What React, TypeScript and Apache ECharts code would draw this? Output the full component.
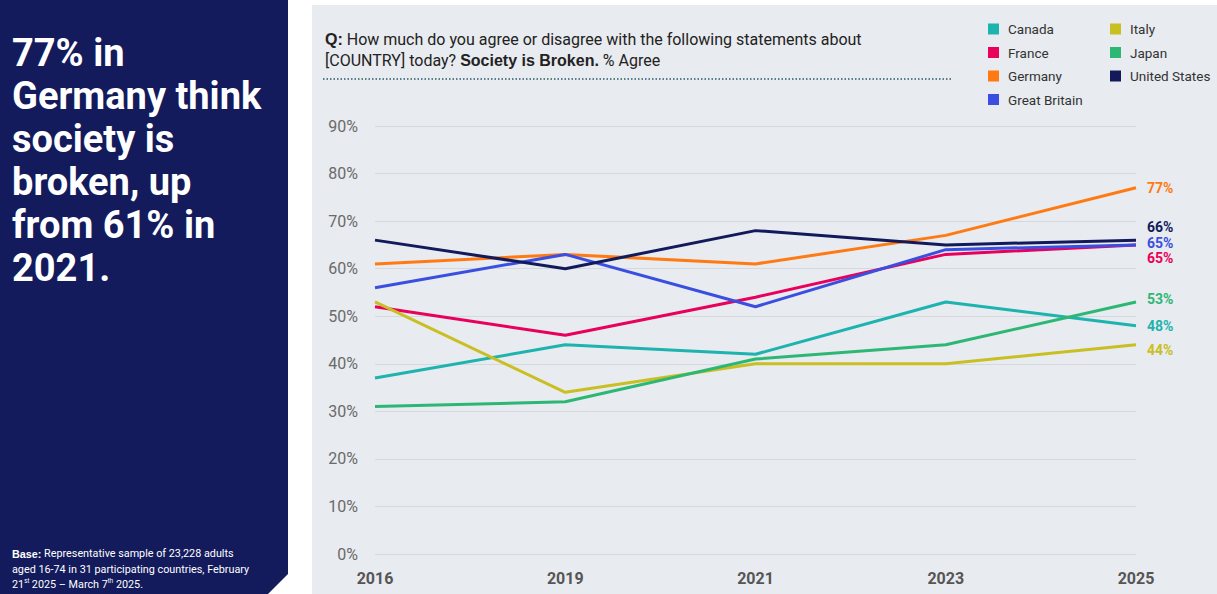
import React, { useEffect, useRef } from "react";
import * as echarts from "echarts";

const years = ["2016", "2019", "2021", "2023", "2025"];
const canada = [37, 44, 42, 53, 48];
const france = [52, 46, 54, 63, 65];
const germany = [61, 63, 61, 67, 77];
const greatBritain = [56, 63, 52, 64, 65];
const italy = [53, 34, 40, 40, 44];
const japan = [31, 32, 41, 44, 53];
const unitedStates = [66, 60, 68, 65, 66];

const seriesDefs = [
  { name: "Canada", data: canada, color: "#1db3ae", dy: 0 },
  { name: "France", data: france, color: "#e8005b", dy: 13 },
  { name: "Germany", data: germany, color: "#ff7a12", dy: 0 },
  { name: "Great Britain", data: greatBritain, color: "#3a4fe0", dy: -2 },
  { name: "Italy", data: italy, color: "#c9bf22", dy: 5 },
  { name: "Japan", data: japan, color: "#2db774", dy: -3 },
  { name: "United States", data: unitedStates, color: "#121a5b", dy: -13 },
];

const headline = ["77% in", "Germany think", "society is", "broken, up", "from 61% in", "2021."];

export default function App() {
  const ref = useRef<HTMLDivElement>(null);
  useEffect(() => {
    if (!ref.current) return;
    const chart = echarts.init(ref.current, null, { renderer: "svg" });
    const font = "Roboto";
    const option: any = {
      animation: false,
      textStyle: { fontFamily: font },
      grid: { left: 375, right: 81, top: 126, bottom: 40 },
      graphic: [
        {
          type: "polygon",
          z: -10,
          shape: { points: [[0, 0], [288, 0], [288, 574], [268, 594], [0, 594]] },
          style: { fill: "#131b5c" },
        },
        {
          type: "rect",
          z: -10,
          shape: { x: 312, y: 5, width: 905, height: 589 },
          style: { fill: "#e8ebef" },
        },
        ...headline.map((t, i) => ({
          type: "text",
          x: 12,
          y: 34 + i * 43,
          style: {
            text: t,
            fill: "#ffffff",
            font: `bold 38px ${font}`,
          },
        })),
        {
          type: "text",
          x: 12,
          y: 546,
          style: {
            text:
              "{b|Base:} Representative sample of 23,228 adults\naged 16-74 in 31 participating countries, February\n21{s|st} 2025 – March 7{s|th} 2025.",
            fill: "#ffffff",
            font: `10.8px ${font}`,
            lineHeight: 15.5,
            rich: {
              b: { fontWeight: "bold", fontSize: 10.8, fill: "#ffffff", lineHeight: 15.5 },
              s: { fontSize: 6.5, fill: "#ffffff", verticalAlign: "top", lineHeight: 15.5 },
            },
          },
        },
        {
          type: "text",
          x: 325,
          y: 29,
          style: {
            text:
              "{b|Q:} How much do you agree or disagree with the following statements about\n[COUNTRY] today? {b|Society is Broken.} % Agree",
            fill: "#222222",
            font: `16px ${font}`,
            lineHeight: 21,
            rich: {
              b: { fontWeight: "bold", fontSize: 16, fill: "#222222", lineHeight: 21 },
            },
          },
        },
        {
          type: "line",
          shape: { x1: 323, y1: 79, x2: 951, y2: 79 },
          style: { stroke: "#2b5868", lineWidth: 1.5, lineDash: [1.5, 2] },
        },
      ],
      legend: [
        {
          data: ["Canada", "France", "Germany", "Great Britain"],
          orient: "vertical",
          left: 983,
          top: 17,
          itemWidth: 11,
          itemHeight: 11,
          itemGap: 9.5,
          icon: "rect",
          textStyle: { color: "#333", fontSize: 13.5, fontFamily: font, padding: [0, 0, 0, 4] },
        },
        {
          data: ["Italy", "Japan", "United States"],
          orient: "vertical",
          left: 1105,
          top: 17,
          itemWidth: 11,
          itemHeight: 11,
          itemGap: 9.5,
          icon: "rect",
          textStyle: { color: "#333", fontSize: 13.5, fontFamily: font, padding: [0, 0, 0, 4] },
        },
      ],
      xAxis: {
        type: "category",
        data: years,
        boundaryGap: false,
        axisLine: { show: false },
        axisTick: { show: false },
        axisLabel: {
          color: "#555",
          fontWeight: "bold",
          fontSize: 16,
          margin: 16,
          fontFamily: font,
        },
      },
      yAxis: {
        type: "value",
        min: 0,
        max: 90,
        interval: 10,
        axisLine: { show: false },
        axisTick: { show: false },
        splitLine: { lineStyle: { color: "#d5d9de", width: 1 } },
        axisLabel: {
          formatter: "{value}%",
          color: "#6a6a6a",
          fontSize: 16,
          margin: 17,
          fontFamily: font,
        },
      },
      series: seriesDefs.map((s) => ({
        name: s.name,
        type: "line",
        data: s.data,
        symbol: "none",
        color: s.color,
        lineStyle: { width: 3, color: s.color },
        emphasis: { disabled: true },
        endLabel: {
          show: true,
          formatter: "{c}%",
          color: s.color,
          fontWeight: "bold",
          fontSize: 14,
          fontFamily: font,
          distance: 11,
          offset: [0, s.dy],
        },
      })),
    };
    chart.setOption(option);
    return () => chart.dispose();
  }, []);
  return (
    <div
      ref={ref}
      style={{ position: "absolute", left: 0, top: 0, width: 1217, height: 594 }}
    />
  );
}
